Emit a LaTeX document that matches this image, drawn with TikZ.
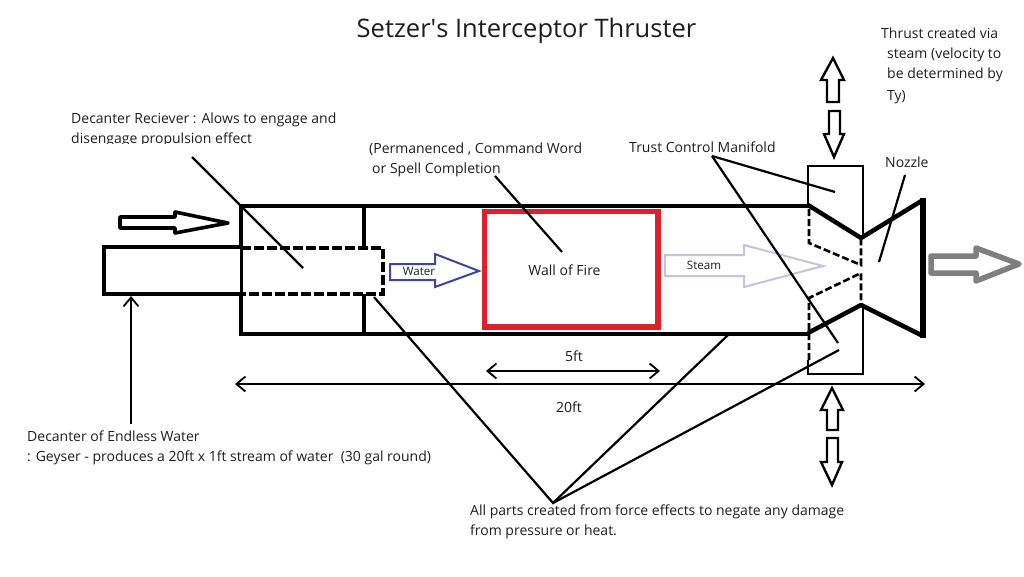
\documentclass[tikz,border=0pt]{standalone}
\usepackage{fontspec}
\setmainfont{Open Sans}
\usetikzlibrary{arrows.meta}
\definecolor{firered}{RGB}{222,32,44}
\definecolor{waterblue}{RGB}{62,72,150}
\definecolor{steamlilac}{RGB}{196,196,222}
\definecolor{exitgrey}{RGB}{127,127,127}
\definecolor{inkblack}{RGB}{0,0,0}
\definecolor{textgrey}{RGB}{30,30,30}
\tikzset{
  x=1pt,y=-1pt,
  wall/.style={draw=inkblack,line width=4pt,line cap=butt},
  thin wall/.style={draw=inkblack,line width=2.6pt},
  dashwall/.style={draw=inkblack,line width=2.6pt,dash pattern=on 7pt off 3pt},
  heavy dashwall/.style={draw=inkblack,line width=3.8pt,dash pattern=on 10pt off 3pt},
  leader/.style={draw=inkblack,line width=2.2pt},
  dimline/.style={draw=inkblack,line width=1.8pt,{Straight Barb[length=9pt,width=15pt,line width=1.8pt]}-{Straight Barb[length=9pt,width=15pt,line width=1.8pt]}},
  pointer/.style={draw=inkblack,line width=1.8pt,-{Straight Barb[length=9pt,width=15pt,line width=1.8pt]}},
  blockarrow/.style={draw=inkblack,line width=2.4pt,line join=miter,fill=white},
  note/.style={anchor=north west,inner sep=0pt,align=left,text=textgrey,font=\fontsize{14}{20}\selectfont},
  small note/.style={anchor=center,inner sep=0pt,text=textgrey,font=\fontsize{11.6}{13}\selectfont},
}
\begin{document}
\begin{tikzpicture}
\useasboundingbox (0,0) rectangle (1024,576);
\fill[white] (0,0) rectangle (1024,576);

% Labels
\node[anchor=center,inner sep=0pt,font=\fontsize{25.5}{30}\selectfont,text=textgrey] (title) at (526.5,31) {Setzer\textquotesingle s Interceptor Thruster};
\node[note] (reciever) at (71,113) {Decanter Reciever : Alows to engage and\\disengage propulsion effect};
\fill[white] (60,143.5) rectangle (300,152);
\node[note] (spell) at (369,143) {(Permanenced , Command Word\\[0pt]\hspace{3pt}or Spell Completion};
\node[note] (manifoldlabel) at (629,142) {Trust Control Manifold};
\node[note] (thrust) at (881,28) {Thrust created via\\\hspace{6pt}steam (velocity to\\\hspace{6pt}be determined by\\[2pt]\hspace{6pt}Ty)};
\node[note] (nozzlelabel) at (885,157) {Nozzle};
\node[note] (endless) at (27,431) {Decanter of Endless Water\\: Geyser - produces a 20ft x 1ft stream of water\ \ (30 gal round)};
\node[note] (allparts) at (470,505) {All parts created from force effects to negate any damage\\from pressure or heat.};

% Reference points for the leaders
\coordinate (recieverfoot) at (192,157);
\coordinate (recievertip) at (303,268);
\coordinate (spellfoot) at (495,176);
\coordinate (spelltip) at (562,252);
\coordinate (manifoldfoot) at (712,156);
\coordinate (manifoldtop) at (835,192);
\coordinate (manifoldbottom) at (838,343);
\coordinate (nozzlefoot) at (905,175);
\coordinate (nozzletip) at (879,262);
\coordinate (apex) at (553,503);
\coordinate (dashcorner) at (374,297);
\coordinate (bodyedge) at (728,335);
\coordinate (lowerbox) at (839,350);
\coordinate (endlessfoot) at (131,424);
\coordinate (endlesstip) at (131,296);
\coordinate (fivel) at (486,371);
\coordinate (fiver) at (660,371);
\coordinate (twentyl) at (235,384);
\coordinate (twentyr) at (925,384);

% Decanter and its dashed extension inside the receiver
\draw[wall,line width=3.4pt] (241,247) -- (104,247) -- (104,294) -- (241,294);
\draw[heavy dashwall] (241,248) -- (383,248) -- (383,294) -- (241,294);

% Thruster body
\draw[wall] (241,206) -- (810,206);
\draw[wall] (241,334) -- (810,334);
\draw[wall] (241,204) -- (241,247);
\draw[wall,line width=3pt] (241,247) -- (241,294);
\draw[wall] (241,294) -- (241,336);
\draw[wall] (364,204) -- (364,248);
\draw[wall] (364,294) -- (364,336);

% Wall of fire chamber
\draw[draw=firered,line width=5.5pt] (484.5,211.5) rectangle (658,327) ;
\node[anchor=center,inner sep=0pt,text=textgrey,font=\fontsize{14}{15}\selectfont] (fire) at (564.5,270) {Wall of Fire};

% Manifold housings
\draw[thin wall] (808,205) -- (808,166) -- (863,166) -- (863,238);
\draw[thin wall] (808,360) -- (808,374) -- (863,374) -- (863,305);
\draw[dashwall] (809,209) -- (809,243) -- (861,265) -- (861,240);
\draw[dashwall] (809,360) -- (809,298) -- (861,273) -- (861,305);

% Nozzle
\draw[wall,line width=4.5pt,line join=round] (808,205) -- (861,238) -- (923,200);
\draw[wall,line width=4.5pt,line join=round] (808,333) -- (861,305) -- (923,336);
\draw[wall,line width=6pt] (923,198) -- (923,338);

% Flow arrows
\draw[blockarrow,line width=3.6pt,line join=round] (120,217) -- (175,217) -- (175,212) -- (228,223) -- (175,233) -- (175,228) -- (120,228) -- cycle;
\draw[blockarrow,draw=waterblue,line width=2pt] (390,264) -- (435,264) -- (435,254) -- (479,271) -- (435,287) -- (435,280) -- (390,280) -- cycle;
\node[small note] (water) at (419,271) {Water};
\draw[blockarrow,draw=steamlilac,line width=2pt] (665,255) -- (744,255) -- (744,245) -- (823,266) -- (744,287) -- (744,276) -- (665,276) -- cycle;
\node[small note] (steam) at (704,265.5) {Steam};
\draw[blockarrow,draw=exitgrey,line width=5.5pt,line join=round] (931,256) -- (976,256) -- (976,248) -- (1019,264) -- (976,281) -- (976,273) -- (931,273) -- cycle;

% Manifold actuation arrows
\draw[blockarrow] (833,58) -- (844,80) -- (839,80) -- (839,102) -- (827,102) -- (827,80) -- (821,80) -- cycle;
\draw[blockarrow] (829,111) -- (840,111) -- (840,134) -- (844,134) -- (834,157) -- (824,134) -- (829,134) -- cycle;
\draw[blockarrow] (832,388) -- (843,410) -- (838,410) -- (838,430) -- (827,430) -- (827,410) -- (821,410) -- cycle;
\draw[blockarrow] (827,438) -- (838,438) -- (838,462) -- (842,462) -- (832,485) -- (821,462) -- (827,462) -- cycle;

% Leaders
\draw[leader] (recieverfoot) -- (recievertip);
\draw[leader] (spellfoot) -- (spelltip);
\draw[leader] (manifoldfoot) -- (manifoldtop);
\draw[leader] (manifoldfoot) -- (manifoldbottom);
\draw[leader] (nozzlefoot) -- (nozzletip);
\draw[leader] (dashcorner) -- (apex) -- (bodyedge);
\draw[leader] (apex) -- (lowerbox);
\draw[pointer] (endlessfoot) -- (endlesstip);

% Dimensions
\draw[dimline] (fivel) -- (fiver);
\node[small note,font=\fontsize{14}{14}\selectfont] (five) at (574,356) {5ft};
\draw[dimline] (twentyl) -- (twentyr);
\node[small note,font=\fontsize{14}{14}\selectfont] (twenty) at (569,407) {20ft};
\end{tikzpicture}
\end{document}
